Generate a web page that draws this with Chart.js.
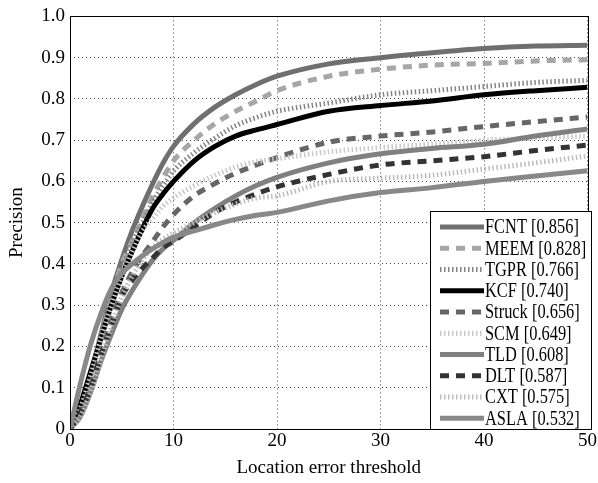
<!DOCTYPE html>
<html>
<head>
<meta charset="utf-8">
<script src="https://cdn.jsdelivr.net/npm/chart.js@4.4.0/dist/chart.umd.min.js"></script>
<style>
  html, body { margin: 0; padding: 0; background: #fff; }
  #wrap { width: 598px; height: 483px; }
</style>
</head>
<body>
<div id="wrap"><canvas id="chart" width="598" height="483"></canvas></div>
<script>
// precision plot – location error threshold

const thresholds = [0, 1, 2, 3, 4, 5, 6, 7, 8, 9, 10, 12, 14, 16, 18, 20, 25, 30, 35, 40, 45, 50];

const fcnt   = [0, 0.05, 0.13, 0.23, 0.33, 0.41, 0.48, 0.54, 0.595, 0.645, 0.685, 0.74, 0.78, 0.81, 0.835, 0.855, 0.885, 0.90, 0.912, 0.922, 0.928, 0.93];
const meem   = [0, 0.04, 0.12, 0.22, 0.32, 0.40, 0.455, 0.51, 0.565, 0.61, 0.65, 0.70, 0.74, 0.77, 0.795, 0.82, 0.855, 0.872, 0.882, 0.886, 0.892, 0.895];
const tgpr   = [0, 0.05, 0.13, 0.23, 0.32, 0.39, 0.45, 0.50, 0.55, 0.59, 0.625, 0.67, 0.705, 0.735, 0.755, 0.77, 0.79, 0.81, 0.82, 0.83, 0.84, 0.845];
const kcf    = [0, 0.06, 0.14, 0.22, 0.30, 0.37, 0.43, 0.485, 0.535, 0.57, 0.60, 0.65, 0.685, 0.71, 0.725, 0.738, 0.77, 0.784, 0.795, 0.81, 0.82, 0.828];
const struck = [0, 0.04, 0.11, 0.19, 0.27, 0.33, 0.38, 0.42, 0.455, 0.49, 0.52, 0.565, 0.595, 0.62, 0.64, 0.658, 0.695, 0.71, 0.72, 0.733, 0.745, 0.756];
const scm    = [0, 0.05, 0.13, 0.22, 0.30, 0.37, 0.43, 0.48, 0.51, 0.54, 0.56, 0.59, 0.615, 0.635, 0.648, 0.655, 0.672, 0.682, 0.69, 0.70, 0.705, 0.71];
const tld    = [0, 0.03, 0.09, 0.165, 0.23, 0.29, 0.335, 0.375, 0.41, 0.437, 0.457, 0.50, 0.535, 0.565, 0.59, 0.61, 0.645, 0.667, 0.68, 0.69, 0.71, 0.727];
const dlt    = [0, 0.04, 0.10, 0.18, 0.25, 0.32, 0.36, 0.39, 0.415, 0.44, 0.455, 0.49, 0.525, 0.55, 0.57, 0.587, 0.617, 0.64, 0.65, 0.66, 0.675, 0.688];
const cxt    = [0, 0.03, 0.09, 0.17, 0.25, 0.32, 0.37, 0.41, 0.44, 0.46, 0.475, 0.50, 0.525, 0.545, 0.56, 0.565, 0.60, 0.608, 0.615, 0.63, 0.645, 0.662];
const asla   = [0, 0.11, 0.205, 0.28, 0.34, 0.377, 0.40, 0.42, 0.437, 0.452, 0.465, 0.48, 0.495, 0.508, 0.518, 0.525, 0.553, 0.573, 0.585, 0.60, 0.613, 0.626];

const trackerNames = ["FCNT", "MEEM", "TGPR", "KCF", "Struck", "SCM", "TLD", "DLT", "CXT", "ASLA"];
const trackerScores = ["0.856", "0.828", "0.766", "0.740", "0.656", "0.649", "0.608", "0.587", "0.575", "0.532"];
const trackerSeries = [fcnt, meem, tgpr, kcf, struck, scm, tld, dlt, cxt, asla];

const xTicks = [0, 10, 20, 30, 40, 50];
const yTicks = [0, 0.1, 0.2, 0.3, 0.4, 0.5, 0.6, 0.7, 0.8, 0.9, 1.0];

// line looks
const looks = [
  { color: "#6f6f6f", dash: [] },
  { color: "#a6a6a6", dash: [9, 7] },
  { color: "#858585", dash: [1.5, 2.5] },
  { color: "#000000", dash: [] },
  { color: "#666666", dash: [9, 7] },
  { color: "#c8c8c8", dash: [1.5, 2.5] },
  { color: "#808080", dash: [] },
  { color: "#333333", dash: [9, 7] },
  { color: "#bcbcbc", dash: [1.5, 2.5] },
  { color: "#888888", dash: [] },
];

const FONT = "'Liberation Serif', 'DejaVu Serif', serif";

const datasets = trackerNames.map((name, i) => ({
  label: `${name} [${trackerScores[i]}]`,
  data: thresholds.map((t, k) => ({ x: t, y: trackerSeries[i][k] })),
  borderColor: looks[i].color,
  borderDash: looks[i].dash,
  borderWidth: 5,
  borderCapStyle: "butt",
  pointRadius: 0,
  fill: false,
  cubicInterpolationMode: "monotone",
  order: 10 - i,
}));

const framePlugin = {
  id: "frame",
  afterDraw(chart) {
    const { ctx, chartArea: a } = chart;
    ctx.save();
    ctx.strokeStyle = "#000";
    ctx.lineWidth = 1;
    ctx.strokeRect(Math.round(a.left) + 0.5, Math.round(a.top) + 0.5,
      Math.round(a.right - a.left), Math.round(a.bottom - a.top));

    // legend box, inside the plot, bottom right
    const bx = 430.5, by = 211.5, bw = 161, bh = Math.round(a.bottom) - 211;
    ctx.fillStyle = "#fff";
    ctx.fillRect(bx, by, bw, bh);
    ctx.strokeRect(bx, by, bw, bh);
    ctx.font = `20px ${FONT}`;
    ctx.textBaseline = "middle";
    ctx.textAlign = "left";
    chart.data.datasets.forEach((ds, i) => {
      const y = 227 + i * 21.25;
      ctx.beginPath();
      ctx.strokeStyle = ds.borderColor;
      ctx.lineWidth = 5;
      ctx.lineCap = "butt";
      ctx.setLineDash(ds.borderDash);
      ctx.moveTo(440, y);
      ctx.lineTo(484, y);
      ctx.stroke();
      ctx.setLineDash([]);
      ctx.fillStyle = "#000";
      ctx.save();
      ctx.translate(485, y + 1);
      ctx.scale(0.82, 1);
      ctx.fillText(ds.label, 0, 0);
      ctx.restore();
    });
    ctx.restore();
  }
};

new Chart(document.getElementById("chart"), {
  type: "line",
  data: { datasets },
  options: {
    responsive: false,
    animation: false,
    layout: { padding: { top: 15, right: 6, left: 0, bottom: 4 } },
    plugins: {
      legend: { display: false },
      tooltip: { enabled: false },
    },
    scales: {
      x: {
        type: "linear",
        min: 0, max: 50,
        afterBuildTicks: s => { s.ticks = xTicks.map(v => ({ value: v })); },
        afterFit: s => { s.height = 50; },
        ticks: { color: "#000", font: { family: FONT, size: 19 }, padding: 1, maxRotation: 0 },
        grid: { color: "#444", lineWidth: 1, drawTicks: false },
        border: { display: false, dash: [1, 3] },
        title: { display: true, text: "Location error threshold", color: "#000",
                 font: { family: FONT, size: 19 }, padding: { top: 0, bottom: 0 } },
      },
      y: {
        min: 0, max: 1,
        afterBuildTicks: s => { s.ticks = yTicks.map(v => ({ value: v })); },
        afterFit: s => { s.width = 70; },
        ticks: { color: "#000", font: { family: FONT, size: 19 }, padding: 5,
                 callback: v => (v === 0 ? "0" : v.toFixed(1)) },
        grid: { color: "#444", lineWidth: 1, drawTicks: false },
        border: { display: false, dash: [1, 3] },
        title: { display: true, text: "Precision", color: "#000",
                 font: { family: FONT, size: 19 }, padding: { top: 6, bottom: 0 } },
      },
    },
  },
  plugins: [framePlugin],
});
</script>
</body>
</html>
